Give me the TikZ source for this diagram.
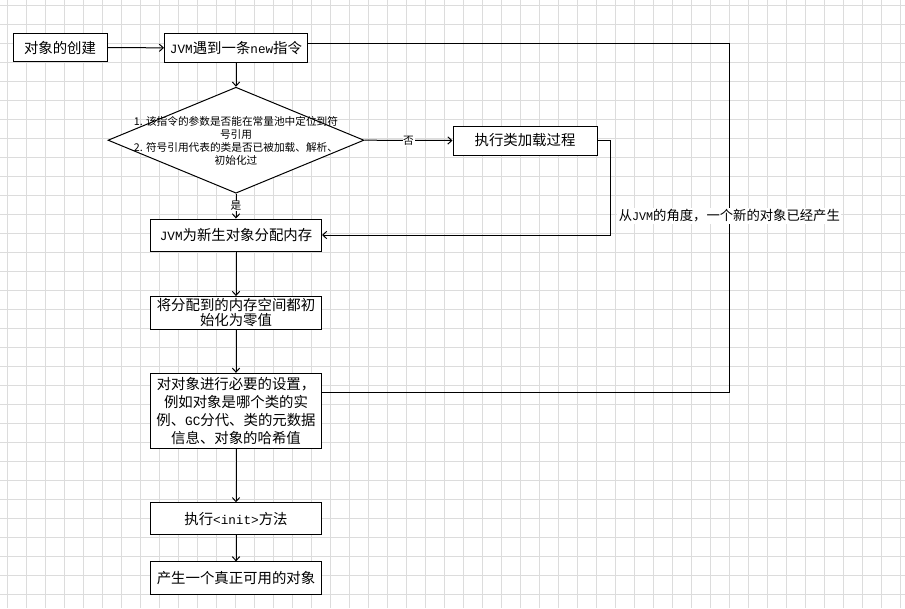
\documentclass[tikz,border=0pt]{standalone}
\usepackage{fontspec}
\setmainfont{Noto Sans CJK SC}
\newfontfamily\monof{Liberation Mono}[Scale=0.88]
\usetikzlibrary{arrows.meta,shapes.geometric}
\definecolor{gridc}{HTML}{DCDCDC}
\begin{document}
\begin{tikzpicture}[x=0.75pt,y=-0.75pt,
  box/.style={draw=black,line width=0.75pt,fill=white,inner sep=0pt,align=center,
    font=\fontsize{10.8}{13.5}\selectfont},
  arr/.style={line width=0.75pt,-{Straight Barb[length=3pt,width=5.5pt]}},
  lnk/.style={line width=0.75pt},
  lab/.style={fill=white,inner sep=0.5pt,font=\fontsize{8}{9.6}\selectfont},
  bigl/.style={fill=white,inner sep=1pt,font=\fontsize{10}{12}\selectfont}]
\useasboundingbox (0,0) rectangle (905,608);
\fill[white] (0,0) rectangle (905,608);
\foreach \i in {0,...,47} \draw[gridc,line width=0.75pt] (7.5+19*\i,0) -- (7.5+19*\i,608);
\foreach \j in {0,...,31} \draw[gridc,line width=0.75pt] (0,5.8+19*\j) -- (905,5.8+19*\j);

\node[box,minimum width=70.5pt,minimum height=21.4pt] (n1) at (60,47.5) {对象的创建};
\node[box,minimum width=107.25pt,minimum height=21.4pt] (n2) at (236,48) {{\monof JVM}遇到一条{\monof new}指令};
\node[draw=black,line width=0.75pt,fill=white,shape=diamond,inner sep=0pt,minimum width=192pt,minimum height=79.5pt] (d) at (236,140.2) {};
\node[align=center,inner sep=0pt,font=\fontsize{8}{9.6}\selectfont] (dt) at (236,141) {1. 该指令的参数是否能在常量池中定位到符\\号引用\\2. 符号引用代表的类是否已被加载、解析、\\初始化过};
\node[box,minimum width=108pt,minimum height=21.75pt] (n3) at (525,140.5) {执行类加载过程};
\node[box,minimum width=128.25pt,minimum height=24pt] (n4) at (236,235) {{\monof JVM}为新生对象分配内存};
\node[box,minimum width=128.25pt,minimum height=24.4pt,font=\fontsize{10.8}{11.25}\selectfont] (n5) at (236,312.8) {将分配到的内存空间都初\\始化为零值};
\node[box,minimum width=128.25pt,minimum height=56.25pt] (n6) at (236,410.8) {对对象进行必要的设置，\\例如对象是哪个类的实\\例、{\monof GC}分代、类的元数据\\信息、对象的哈希值};
\node[box,minimum width=128.25pt,minimum height=23.6pt] (n7) at (236,518.5) {执行{\monof <init>}方法};
\node[box,minimum width=128.25pt,minimum height=24.2pt] (n8) at (236,578) {产生一个真正可用的对象};

\coordinate (c1) at (729.3,43.3);
\coordinate (c2) at (729.3,392.3);
\coordinate (c3) at (610,140.5);

\draw[arr] (n1) -- (n2);
\draw[arr] (n2) -- (d);
\draw[arr] (d.east) -- node[lab] {否} (n3.west);
\draw[arr] (d.south) -- node[lab] {是} (n4.north);
\draw[arr] (n3.east) -- (n3.east -| c3) |- (n4.east);
\draw[arr] (n4) -- (n5);
\draw[arr] (n5) -- (n6);
\draw[arr] (n6) -- (n7);
\draw[arr] (n7) -- (n8);
\draw[lnk] (n2.east |- c1) -- (c1) -- node[bigl,pos=0.495] (lbl) {从{\monof JVM}的角度，一个新的对象已经产生} (c2) -- (n6.east |- c2);
\end{tikzpicture}
\end{document}
